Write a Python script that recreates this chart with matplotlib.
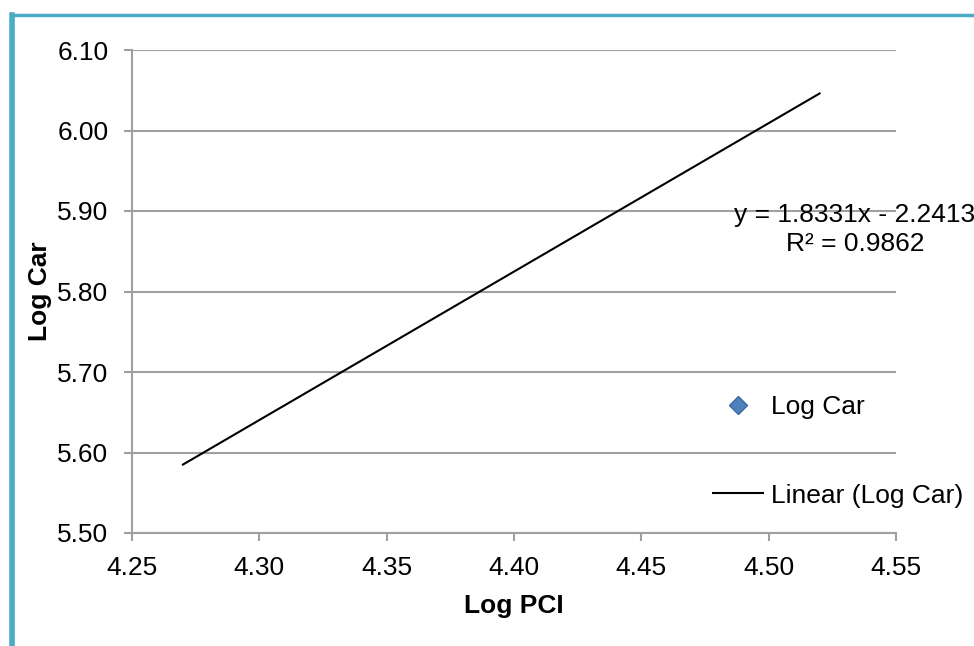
import matplotlib.pyplot as plt
from matplotlib.lines import Line2D
from matplotlib.patches import Rectangle

# values
trend_pci = [4.27, 4.52]
trend_car = [5.585, 6.046]
x_ticks = [4.25, 4.30, 4.35, 4.40, 4.45, 4.50, 4.55]
y_ticks = [5.50, 5.60, 5.70, 5.80, 5.90, 6.00, 6.10]
eq_text = 'y = 1.8331x - 2.2413\nR² = 0.9862'
series_name = 'Log Car'
trend_name = 'Linear (Log Car)'

plt.rcParams['font.family'] = ['Liberation Sans', 'DejaVu Sans']
W, H = 974, 646
fig = plt.figure(figsize=(W / 100, H / 100), dpi=100)
fs = 19
grid_col = '#a0a0a0'

# chart border (top and left edges visible)
fig.add_artist(Rectangle((12 / W, -0.1), 1.2, (H - 14.5) / H + 0.1, transform=fig.transFigure,
                         fill=False, edgecolor='#4bacc6', linewidth=2.5))
fig.add_artist(Line2D([12 / W, 12 / W], [0, (H - 14.5) / H], transform=fig.transFigure,
                      color='#4bacc6', linewidth=4))

ax = fig.add_axes([132 / W, (H - 533) / H, (896 - 132) / W, (533 - 50) / H])
ax.set_xlim(4.25, 4.55)
ax.set_ylim(5.50, 6.10)
ax.set_xticks(x_ticks)
ax.set_yticks(y_ticks)
ax.set_xticklabels(['%.2f' % v for v in x_ticks])
ax.set_yticklabels(['%.2f' % v for v in y_ticks])
ax.tick_params(labelsize=fs, color=grid_col, length=6, width=1.5)
ax.tick_params(axis='x', pad=10.5)
ax.tick_params(axis='y', pad=11)
ax.grid(axis='y', color=grid_col, linewidth=1.5)
ax.set_axisbelow(True)
for s in ['top', 'right']:
    ax.spines[s].set_visible(False)
for s in ['left', 'bottom']:
    ax.spines[s].set_color(grid_col)
    ax.spines[s].set_linewidth(1.5)

ax.plot(trend_pci, trend_car, color='black', linewidth=1.5)

ax.set_xlabel('Log PCI', fontsize=fs, fontweight='bold', labelpad=10)
ax.set_ylabel('Log Car', fontsize=fs, fontweight='bold', labelpad=4)

fig.text(855 / W, (H - 229.5) / H, eq_text, fontsize=fs, ha='center', va='center',
         multialignment='center', linespacing=1.25, clip_on=False)

handles = [Line2D([], [], linestyle='none', marker='D', markersize=9,
                  markerfacecolor='#4f81bd', markeredgecolor='#3a6aa5'),
           Line2D([], [], color='black', linewidth=1.5)]
leg = fig.legend(handles, [series_name, trend_name], loc='upper left',
                 bbox_to_anchor=(713 / W, (H - 395) / H), frameon=False,
                 fontsize=fs, handlelength=1.9, handletextpad=0.3,
                 labelspacing=2.45, borderpad=0, borderaxespad=0)

fig.savefig('out.png', dpi=100)
